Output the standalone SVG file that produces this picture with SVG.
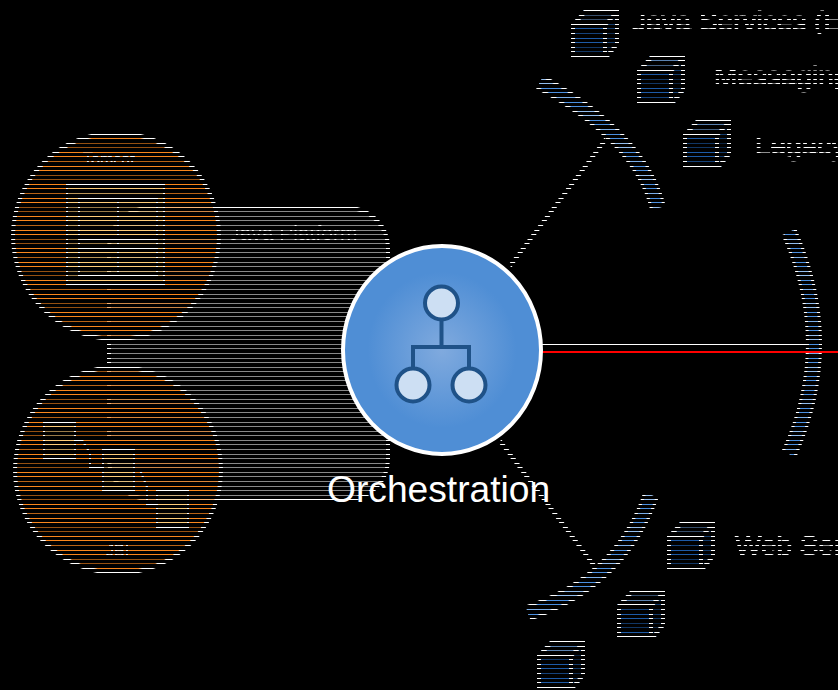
<svg xmlns="http://www.w3.org/2000/svg" width="838" height="690" viewBox="0 0 838 690">
<style>
.t{font-family:"Liberation Sans",Arial,sans-serif;fill:#fff}
.rt{font-size:28px;stroke:#fff;stroke-width:.9}
.lb{font-size:16px;stroke:#fff;stroke-width:.4}
.wl{fill:none;stroke:#fff;stroke-width:4}
.arcw{fill:none;stroke:#fff;stroke-width:16}
.arcb{fill:none;stroke:#4a8fe0;stroke-width:10}
.pale{fill:#ffcc78}
.org{fill:#f9861c}
.ms{mask:url(#ms)}
.mf{mask:url(#mf)}
</style>
<defs>
<pattern id="ps" patternUnits="userSpaceOnUse" width="16" height="32">
<g fill="#fff"><rect y="1" width="16" height="1"/><rect y="6" width="16" height="1"/><rect y="10" width="16" height="1"/><rect y="15" width="16" height="1"/><rect y="19" width="16" height="1"/><rect y="24" width="16" height="1"/><rect y="28" width="16" height="1"/></g>
</pattern>
<pattern id="pf" patternUnits="userSpaceOnUse" width="16" height="32">
<rect y="1" width="16" height="1" fill="#bbb"/><rect y="6" width="16" height="1" fill="#fff"/><rect y="10" width="16" height="1" fill="#fff"/><rect y="15" width="16" height="1" fill="#999"/><rect y="19" width="16" height="1" fill="#999"/><rect y="24" width="16" height="1" fill="#fff"/><rect y="28" width="16" height="1" fill="#fff"/>
</pattern>
<mask id="ms" maskUnits="userSpaceOnUse" x="0" y="0" width="838" height="690"><rect width="838" height="690" fill="url(#ps)"/></mask>
<mask id="mf" maskUnits="userSpaceOnUse" x="0" y="0" width="838" height="690"><rect width="838" height="690" fill="url(#pf)"/></mask>
<radialGradient id="hub" cx="50%" cy="50%" r="50%"><stop offset="0" stop-color="#80aade"/><stop offset=".75" stop-color="#4f8ed5"/><stop offset="1" stop-color="#4f8ed5"/></radialGradient>
<g id="cf">
<path d="M13,0H48V35L38,47H0V14Z" fill="#1d5aa6"/>
<path d="M13,0H48L36,14H0Z" fill="#5b82b0"/>
<path d="M36,14L48,0V35L36,47Z" fill="#143c6c"/>
</g>
<g id="cs" fill="none" stroke="#fff" stroke-width="4">
<path d="M14,2H46V34L37,45H2V15Z"/>
<path d="M2,15H34V45M34,15L46,2"/>
</g>
</defs>
<rect width="838" height="690" fill="#000"/>

<g id="java-platform">
<rect class="ms" x="109" y="208" width="279" height="291" rx="40" fill="#888"/>
<rect class="ms wl" x="109" y="208" width="279" height="291" rx="40"/>
<text class="t ms" x="229" y="240" font-size="21">Java Platform</text>
</g>

<g id="tomcat">
<g class="mf">
<circle class="org" cx="116" cy="236" r="103"/>
<rect class="pale" x="66" y="184" width="99" height="101"/>
</g>
<g class="ms">
<circle class="wl" cx="116" cy="236" r="103"/>
<rect x="67" y="183" width="97" height="2" fill="#fff"/>
<rect x="67" y="283" width="97" height="2" fill="#fff"/>
<path d="M67,184V285M164,184V285M79,198V276M157,198V276M118,198V276" fill="none" stroke="#fff" stroke-width="2"/>
<path d="M78,198H158M78,239H158M78,248H158M78,275H158" fill="none" stroke="#fff" stroke-width="2"/>
<text class="t lb" x="83" y="165">Tomcat</text>
</g>
</g>

<g id="jbi">
<g class="mf">
<circle class="org" cx="118" cy="470" r="103"/>
<rect class="pale" x="43" y="421" width="33" height="38"/>
<rect class="pale" x="102" y="449" width="33" height="41"/>
<rect class="pale" x="156" y="490" width="33" height="38"/>
</g>
<g class="ms">
<circle class="wl" cx="118" cy="470" r="103"/>
<g fill="none" stroke="#fff" stroke-width="2">
<rect x="44" y="422" width="31" height="36"/>
<rect x="103" y="449" width="31" height="41"/>
<rect x="157" y="490" width="31" height="37"/>
<path d="M75,440H82L90,453V467H103M134,470H140L147,487V504H156"/>
</g>
<text class="t lb" x="106" y="556">JBI</text>
</g>
</g>

<g id="connectors">
<rect class="ms" x="542" y="343" width="270" height="3" fill="#fff"/>
<path class="ms wl" d="M510,266L606,139M500,441L596,568"/>
</g>

<g id="arc-top"><g class="ms"><path class="arcw" d="M540,82Q640,137 658,208"/></g><g class="mf"><path class="arcb" d="M540,82Q640,137 658,208"/></g></g>
<g id="arc-right"><g class="ms"><path class="arcw" d="M789,232Q839,344 789,454"/></g><g class="mf"><path class="arcb" d="M789,232Q839,344 789,454"/></g></g>
<g id="arc-bottom"><g class="ms"><path class="arcw" d="M651,495Q620,582 528,613"/></g><g class="mf"><path class="arcb" d="M651,495Q620,582 528,613"/></g></g>

<rect id="red-link" x="542" y="351" width="296" height="2" fill="#f00"/>

<g id="orchestration">
<ellipse cx="442" cy="350" rx="99" ry="104" fill="url(#hub)" stroke="#fff" stroke-width="4"/>
<g fill="#cddff3" stroke="#1f5288" stroke-width="4">
<path d="M441.5,320V347M413,368V347H469V368" fill="none"/>
<circle cx="441.5" cy="303" r="16.5"/>
<circle cx="413" cy="385" r="16.5"/>
<circle cx="469" cy="385" r="16.5"/>
</g>
<text class="t" x="327" y="502" font-size="37.2">Orchestration</text>
</g>

<g id="java-services">
<g class="mf"><use href="#cf" x="571" y="10"/></g>
<g class="ms"><use href="#cs" x="571" y="10"/><text class="t rt" x="632" y="31">Java Services (E</text></g>
</g>
<g id="messaging">
<g class="mf"><use href="#cf" x="637" y="56"/></g>
<g class="ms"><use href="#cs" x="637" y="56"/><text class="t rt" x="714" y="86">Messaging</text></g>
</g>
<g id="legacy">
<g class="mf"><use href="#cf" x="683" y="120"/></g>
<g class="ms"><use href="#cs" x="683" y="120"/><text class="t rt" x="755" y="155">Legacy</text></g>
</g>
<g id="web-services">
<g class="mf"><use href="#cf" x="667" y="522"/></g>
<g class="ms"><use href="#cs" x="667" y="522"/><text class="t rt" x="735" y="555">Web Services</text></g>
</g>
<g id="cube-5">
<g class="mf"><use href="#cf" x="617" y="591"/></g>
<g class="ms"><use href="#cs" x="617" y="591"/></g>
</g>
<g id="cube-6">
<g class="mf"><use href="#cf" x="537" y="641"/></g>
<g class="ms"><use href="#cs" x="537" y="641"/></g>
</g>
</svg>
